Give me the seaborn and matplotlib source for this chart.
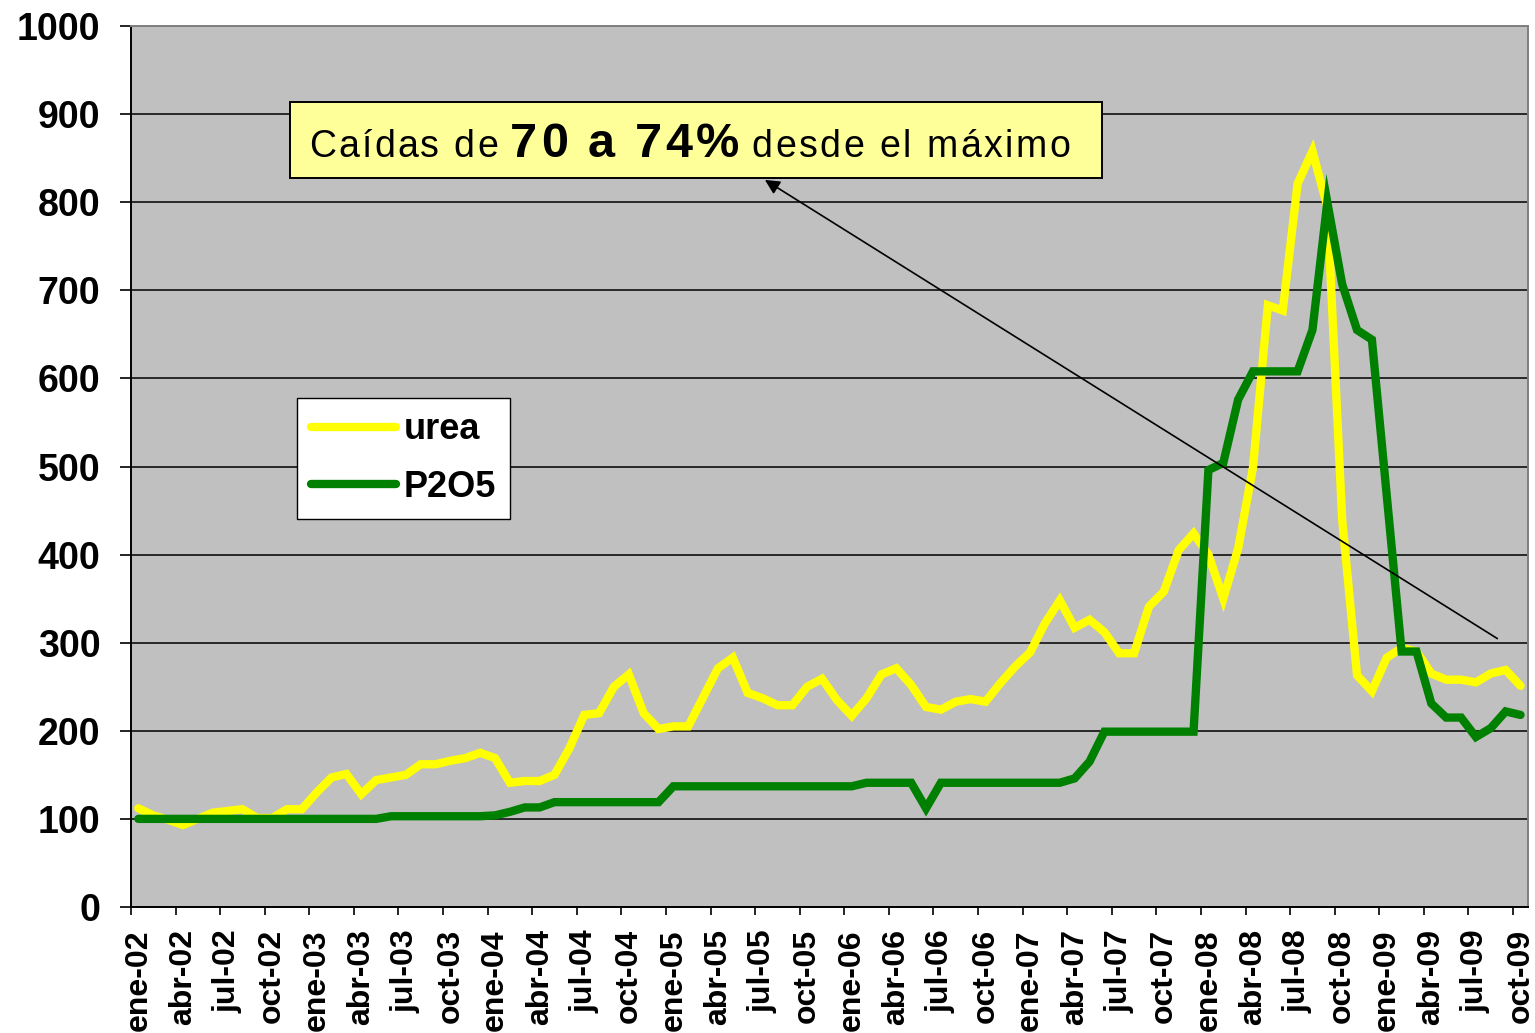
import numpy as np
import pandas as pd
import matplotlib
matplotlib.use("Agg")
import matplotlib.pyplot as plt
import seaborn as sns
from matplotlib.offsetbox import TextArea, HPacker, AnnotationBbox
from matplotlib.patches import Rectangle

# Monthly index values, ene-02 .. oct-09
month_names = ["ene", "feb", "mar", "abr", "may", "jun", "jul", "ago", "sep", "oct", "nov", "dic"]
months = [f"{month_names[m]}-{y:02d}" for y in range(2, 10) for m in range(12)][:94]

urea = [112, 104, 99, 93, 100, 107, 109, 111, 101, 101, 111, 111,
        130, 147, 151, 128, 144, 147, 150, 162, 162, 166, 169, 175,
        169, 141, 143, 143, 150, 180, 218, 220, 250, 264, 220, 202,
        205, 205, 238, 271, 283, 243, 237, 229, 229, 250, 259, 235,
        217, 237, 264, 271, 252, 227, 224, 233, 236, 233, 254, 273,
        289, 322, 348, 317, 326, 312, 288, 288, 341, 358, 405, 424,
        400, 350, 407, 499, 683, 677, 821, 858, 795, 440, 263, 245,
        283, 294, 290, 265, 258, 258, 255, 265, 269, 251]
p2o5 = [100, 100, 100, 100, 100, 100, 100, 100, 100, 100, 100, 100,
        100, 100, 100, 100, 100, 103, 103, 103, 103, 103, 103, 103,
        104, 108, 113, 113, 119, 119, 119, 119, 119, 119, 119, 119,
        137, 137, 137, 137, 137, 137, 137, 137, 137, 137, 137, 137,
        137, 141, 141, 141, 141, 112, 141, 141, 141, 141, 141, 141,
        141, 141, 141, 146, 165, 199, 199, 199, 199, 199, 199, 199,
        496, 504, 576, 608, 608, 608, 608, 655, 800, 707, 655, 644,
        467, 290, 290, 231, 215, 215, 193, 203, 222, 218]

df = pd.DataFrame({"mes": months, "urea": urea, "P2O5": p2o5})
df["i"] = np.arange(len(df))

sns.set_style("white")
plt.rcParams["font.family"] = ["Liberation Sans", "DejaVu Sans"]
plt.rcParams["text.color"] = "black"
plt.rcParams["xtick.color"] = "black"
plt.rcParams["ytick.color"] = "black"

fig = plt.figure(figsize=(15.35, 10.33), dpi=100)
ax = fig.add_axes([0.0853, 0.122, 0.9101, 0.8528])
ax.set_facecolor("#C0C0C0")

sns.lineplot(data=df, x="i", y="urea", ax=ax, color="#FFFF00", lw=6, label="urea",
             solid_capstyle="round", solid_joinstyle="miter")
sns.lineplot(data=df, x="i", y="P2O5", ax=ax, color="#008000", lw=6, label="P2O5",
             solid_capstyle="round", solid_joinstyle="miter")

ax.set_xlim(-0.5, len(df) - 0.5)
ax.set_ylim(0, 1000)
ax.set_yticks(range(0, 1001, 100))
ax.yaxis.grid(True, color="black", lw=1.1)
ax.set_axisbelow(True)
ax.tick_params(axis="y", labelsize=27, length=8, width=1.2, direction="out", pad=14, left=True)
for lbl in ax.get_yticklabels():
    lbl.set_fontweight("bold")

ax.set_xticks(df["i"][::3])
ax.set_xticklabels(df["mes"][::3], rotation=90, fontsize=23, fontweight="bold")
ax.set_xticks(np.arange(-0.5, len(df), 3), minor=True)
ax.tick_params(axis="x", which="major", length=0, pad=16)
ax.tick_params(axis="x", which="minor", length=6, width=1.2, direction="out", bottom=True)
ax.set_xlabel("")
ax.set_ylabel("")

for side in ["left", "bottom"]:
    ax.spines[side].set_color("black")
    ax.spines[side].set_linewidth(1.4)
for side in ["top", "right"]:
    ax.spines[side].set_color("#808080")
    ax.spines[side].set_linewidth(1.4)

leg = ax.legend(loc="upper left", bbox_to_anchor=(0.1188, 0.578), borderaxespad=0,
                prop={"weight": "bold", "size": 26}, frameon=True, fancybox=False,
                handlelength=2.35, handletextpad=0.2, labelspacing=0.62,
                borderpad=0.4)
leg.get_frame().set_edgecolor("black")
leg.get_frame().set_linewidth(1.0)
leg.get_frame().set_facecolor("white")
leg.get_frame().set_alpha(1)

# arrow from late-2009 back to the callout
ax.annotate("", xy=(42.0, 827), xytext=(91.6, 303),
            arrowprops=dict(arrowstyle="-|>", color="black", lw=1.2, mutation_scale=22))

# callout box
ax.add_patch(Rectangle((0.1138, 0.8275), 0.5813, 0.0862, transform=ax.transAxes,
                       facecolor="#FFFF99", edgecolor="black", lw=1.4, zorder=5))


def spaced(text, size, sep, weight="normal"):
    return HPacker(children=[TextArea(c, textprops=dict(size=size, weight=weight, color="black"))
                             for c in text],
                   align="baseline", pad=0, sep=sep)


callout = HPacker(children=[spaced("Caídas de", 27, 1.6),
                            spaced("70 a 74%", 35, 2.4, "bold"),
                            spaced("desde el máximo", 27, 1.8)],
                  align="baseline", pad=0, sep=9)
ab = AnnotationBbox(callout, (0.1275, 0.866), xycoords="axes fraction", frameon=False,
                    box_alignment=(0, 0.5), pad=0)
ab.set_zorder(6)
ax.add_artist(ab)

fig.savefig("out.png", dpi=100, facecolor="white")
